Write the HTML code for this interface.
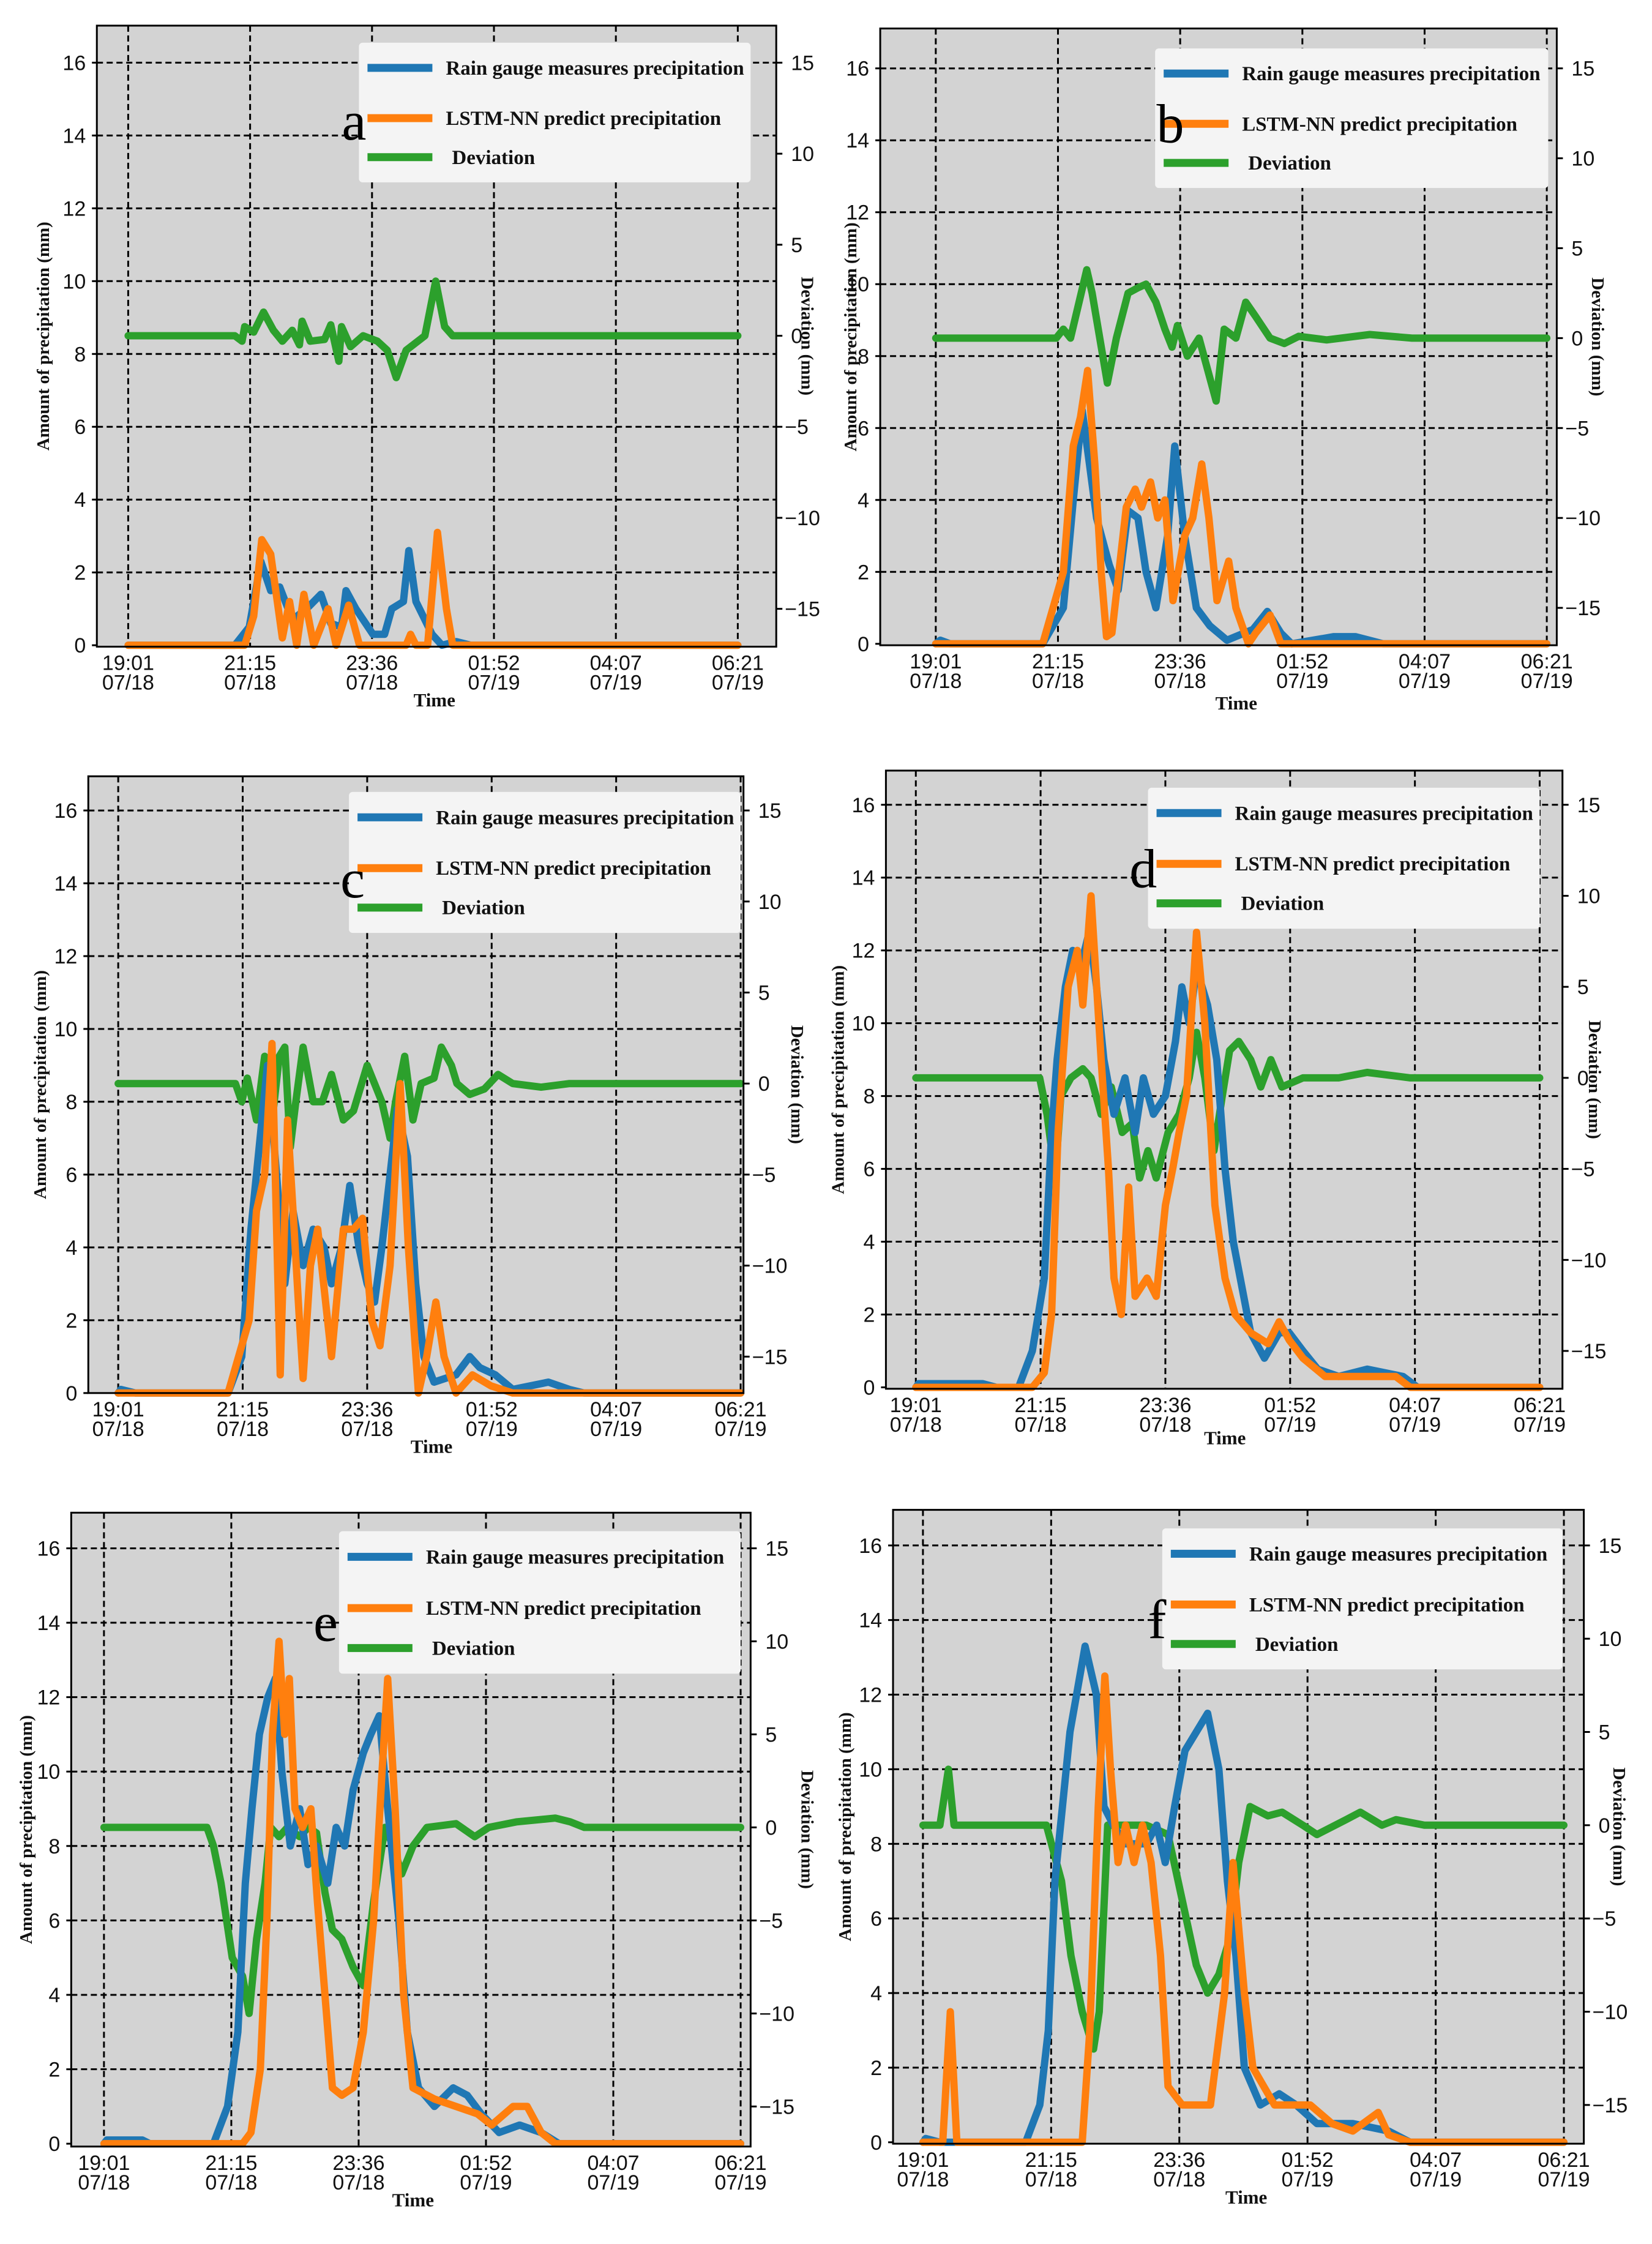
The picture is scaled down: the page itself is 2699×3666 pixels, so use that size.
<!DOCTYPE html>
<html><head><meta charset="utf-8"><style>
html,body{margin:0;padding:0;background:#fff;}
svg{display:block;}
text{font-family:"Liberation Sans",sans-serif;}
text.ser{font-family:"Liberation Serif",serif;font-weight:bold;}
text.letter{font-family:"Liberation Serif",serif;font-weight:normal;}
</style></head>
<body>
<svg id="fig" width="2699" height="3666" viewBox="0 0 2699 3666" xmlns="http://www.w3.org/2000/svg"></svg>
<script>
// ---- data (time in minutes since 19:01 07/18, values in mm) ----
const xTickLabels = ["19:01","21:15","23:36","01:52","04:07","06:21"];
const xTickDates = ["07/18","07/18","07/18","07/19","07/19","07/19"];
const yTicksLeft = [0,2,4,6,8,10,12,14,16];
const yTicksRight = [-15,-10,-5,0,5,10,15];
const seriesNames = ["Rain gauge measures precipitation","LSTM-NN predict precipitation","Deviation"];

const aRainT=[0,119,135,148,159,169,183,199,215,226,238,243,254,273,286,294,307,313,321,339,350,366,382,680];
const aRainV=[0,0,0.5,2.3,1.5,1.6,0.7,1.0,1.4,0.6,0.5,1.5,1.0,0.3,0.3,1.0,1.2,2.6,1.2,0.3,0,0.1,0,0];
const aPredT=[0,130,140,149,159,172,180,188,196,207,223,232,246,258,310,315,321,334,345,355,362,680];
const aPredV=[0,0,0.8,2.9,2.5,0.2,1.2,0,1.4,0,1.0,0,1.1,0,0,0.3,0,0,3.1,1.0,0,0];
const aDevT=[0,119,127,130,140,151,162,172,183,191,194,203,219,226,235,238,248,262,278,289,299,310,331,343,353,362,680];
const aDevV=[0,0,-0.3,0.5,0.2,1.3,0.3,-0.3,0.3,-0.5,0.8,-0.3,-0.2,0.6,-1.4,0.5,-0.6,0,-0.3,-0.8,-2.3,-0.8,0,3,0.5,0,0];

const bRainT=[0,5,16,119,142,153,163,171,179,193,203,214,225,234,245,258,266,277,290,305,324,353,369,384,396,443,467,498,680];
const bRainV=[0,0.1,0,0,1,4,6.5,5,3.5,2.2,1.5,3.7,3.5,2,1,3,5.5,3,1,0.5,0.1,0.4,0.9,0.3,0,0.2,0.2,0,0];
const bPredT=[0,119,142,153,161,169,177,184,190,196,212,222,229,239,247,255,264,277,286,296,304,313,326,334,348,356,372,384,680];
const bPredV=[0,0,2,5.5,6.3,7.6,5,2,0.2,0.3,3.8,4.3,3.8,4.5,3.5,4.0,1.2,3,3.5,5,3.5,1.2,2.3,1,0,0.3,0.8,0,0];
const bDevT=[0,134,142,150,168,174,191,201,214,225,234,245,255,263,269,280,293,312,321,334,345,356,372,388,404,435,483,530,680];
const bDevV=[0,0,0.5,0,3.8,2.5,-2.5,0,2.5,2.8,3,2,0.5,-0.5,0.7,-1,0,-3.5,0.5,0,2,1.2,0,-0.3,0.1,-0.1,0.2,0,0];

const cRainT=[0,3,19,120,135,145,157,163,173,182,191,202,213,225,233,244,253,263,272,280,288,297,305,316,325,334,345,369,384,395,412,431,470,493,509,680];
const cRainV=[0,0.1,0,0,1,4.5,7.5,9,6,3,5,3.5,4.5,4,3,4,5.7,4,3,2.5,4,6,7.8,6.5,3,1,0.3,0.5,1,0.7,0.5,0.1,0.3,0.1,0,0];
const cPredT=[0,120,143,151,160,168,177,185,191,198,202,210,218,233,246,257,267,277,286,297,308,317,328,337,347,356,369,387,407,431,680];
const cPredV=[0,0,2,5,6,9.6,0.5,7.5,5,2,0.4,3.5,4.5,1,4.5,4.5,4.8,2,1.3,3.5,8.5,4,0,1,2.5,1,0,0.5,0.2,0,0];
const cDevT=[0,128,135,141,151,160,166,176,182,188,194,202,213,223,233,246,257,272,280,288,297,303,313,322,331,345,353,364,370,384,400,415,431,462,493,680];
const cDevV=[0,0,-1,0.3,-2,1.5,-3,1.5,2,-3.5,-1,2,-1,-1,0.5,-2,-1.5,1,0,-1,-3,-1,1.5,-2,0,0.3,2,1,0,-0.6,-0.3,0.5,0,-0.2,0,0];

const dRainT=[0,3,73,88,112,127,140,148,154,163,171,179,189,197,205,216,228,239,248,259,272,283,290,298,306,318,328,337,346,365,380,396,407,422,438,461,492,531,547,680];
const dRainV=[0,0.1,0.1,0,0,1,3,7,9,11,12,11.5,12.5,11,9,7.5,8.5,7,8.5,7.5,8,9.5,11,10,11.5,10.5,9,6,4,1.5,0.8,1.5,1.5,1,0.5,0.3,0.5,0.3,0,0];
const dPredT=[0,127,140,148,155,166,176,182,191,202,210,216,224,232,239,252,262,272,280,287,295,306,315,326,337,348,365,384,396,407,422,446,492,523,539,680];
const dPredV=[0,0,0.4,2,7,11,12,10.5,13.5,9,6,3,2,5.5,2.5,3,2.5,5,6,7,8,12.5,10,5,3,2,1.5,1.2,1.8,1.3,0.8,0.3,0.3,0.3,0,0];
const dDevT=[0,135,143,152,158,169,182,191,202,213,225,236,244,253,262,275,287,298,306,315,325,334,342,352,365,376,387,399,422,461,492,539,680];
const dDevV=[0,0,-2,-5.5,-1,0,0.5,0,-2,-0.5,-3,-2.5,-5.5,-4,-5.5,-3,-2,0,2.5,0,-4,-1,1.5,2,1,-0.5,1,-0.5,0,0,0.3,0,0];

const eRainT=[0,3,41,49,117,132,143,151,158,166,175,183,190,199,209,218,227,239,248,257,266,277,285,294,303,315,324,336,353,373,388,403,422,444,467,486,680];
const eRainV=[0,0.1,0.1,0,0,1,3,7,9,11,12,12.5,10,8,9,7.5,8,7,8.5,8,9.5,10.5,11,11.5,9,6,3,1.5,1,1.5,1.3,0.8,0.3,0.5,0.3,0,0];
const ePredT=[0,148,157,167,174,180,187,193,198,204,212,221,228,236,244,254,266,277,288,297,303,311,320,330,353,376,399,414,437,452,467,482,680];
const ePredV=[0,0,0.3,2,6,11,13.5,11,12.5,9,8.5,9,6.5,4,1.5,1.3,1.5,3,6,10,12.5,9,4,1.5,1.2,1,0.8,0.5,1,1,0.3,0,0];
const eDevT=[0,110,117,125,137,148,155,163,172,178,187,196,209,218,227,236,244,254,266,277,288,300,309,318,330,345,376,396,411,441,482,498,513,680];
const eDevV=[0,0,-1,-3,-7,-8,-10,-6,-3,0,-0.5,0,-0.5,0,-0.3,-3.5,-5.5,-6,-7.5,-8.5,-4,0,-1,-2.5,-1,0,0.2,-0.5,0,0.3,0.5,0.3,0,0];

const fRainT=[0,3,18,109,124,133,140,148,156,163,172,184,192,202,215,237,248,257,267,278,290,302,314,323,332,341,358,378,396,418,456,494,517,680];
const fRainV=[0,0.1,0,0,1,3,7,9,11,12,13.3,12,9,8.5,8,8,8.5,7.5,9,10.5,11,11.5,10,7,5,2,1,1.3,1,0.5,0.5,0.3,0,0];
const fPredT=[0,21,29,36,169,177,186,193,199,207,215,224,233,242,252,260,275,305,320,329,341,350,373,396,411,434,456,483,494,517,680];
const fPredV=[0,0,3.5,0,0,3,9,12.5,10,7.5,8.5,7.5,8.5,7.5,5,1.5,1,1,4,7.5,4,2,1,1,1,0.5,0.3,0.8,0.2,0,0];
const fDevT=[0,18,27,33,131,147,157,169,181,187,196,237,260,275,290,302,314,326,335,347,366,381,403,418,449,464,487,502,532,680];
const fDevV=[0,0,3,0,0,-3,-7,-10,-12,-10,0,0,-0.5,-4,-7.5,-9,-8,-6,-2,1,0.5,0.7,0,-0.5,0.3,0.7,0,0.3,0,0];

// ---- layout (display units, scaled by S) ----
const S = 2.327;
const COLORS = ["#1f77b4","#ff7f0e","#2ca02c"];
const panels = [
 {id:"a", box:[68,18,545,454], y0:453, y16:44, x0:90, x1:518, leg:[252,30,527,128], let:[240,98], time:[305,496], ylab:30, rlab:567, rain:[aRainT,aRainV], pred:[aPredT,aPredV], dev:[aDevT,aDevV]},
 {id:"b", box:[618,20,1093,453], y0:452, y16:48, x0:657, x1:1086, leg:[811,34,1087,132], let:[812,100], time:[868,498], ylab:597, rlab:1122, rain:[bRainT,bRainV], pred:[bPredT,bPredV], dev:[bDevT,bDevV]},
 {id:"c", box:[62,545,522,978], y0:978, y16:569, x0:83, x1:520, leg:[245,556,520,655], let:[239,630], time:[303,1020], ylab:28, rlab:560, rain:[cRainT,cRainV], pred:[cPredT,cPredV], dev:[cDevT,cDevV]},
 {id:"d", box:[622,541,1097,975], y0:974, y16:565, x0:643, x1:1081, leg:[806,553,1081,652], let:[793,623], time:[860,1014], ylab:588, rlab:1120, rain:[dRainT,dRainV], pred:[dPredT,dPredV], dev:[dDevT,dDevV]},
 {id:"e", box:[50,1062,527,1507], y0:1505, y16:1087, x0:73, x1:520, leg:[238,1075,520,1175], let:[220,1152], time:[290,1549], ylab:18, rlab:567, rain:[eRainT,eRainV], pred:[ePredT,ePredV], dev:[eDevT,eDevV]},
 {id:"f", box:[627,1060,1112,1505], y0:1504, y16:1085, x0:648, x1:1098, leg:[816,1073,1097,1172], let:[806,1150], time:[875,1547], ylab:593, rlab:1137, rain:[fRainT,fRainV], pred:[fPredT,fPredV], dev:[fDevT,fDevV]}
];
const NS="http://www.w3.org/2000/svg";
const fig=document.getElementById('fig');
function mk(tag, attrs, parent){const e=document.createElementNS(NS,tag);for(const k in attrs)e.setAttribute(k,attrs[k]);(parent||fig).appendChild(e);return e;}

panels.forEach(p=>{
  const g=mk('g',{});
  
  
  const [L,T,R,B]=p.box.map(v=>v*S);
  const xs=t=>(p.x0+(p.x1-p.x0)*t/680)*S;
  const ys=v=>(p.y0-(p.y0-p.y16)*v/16)*S;
  const yd=d=>ys(8.5+d/2);
  const bg=mk('rect',{x:L,y:T,width:R-L,height:B-T,fill:"#d3d3d3",stroke:"none"},g);
  
  
  yTicksLeft.forEach(v=>{
    const y=ys(v);
    if(v>0){const l=mk('line',{x1:L,x2:R,y1:y,y2:y,stroke:"#000","stroke-width":3,"stroke-dasharray":"10,6"},g);
    
    }
    const t=mk('text',{x:L-18,y:y+12,"font-size":34,"text-anchor":"end",fill:"#111"},g);
    t.textContent=v;
    
    
    mk('line',{x1:L-8,x2:L,y1:y,y2:y,stroke:"#000","stroke-width":3},g);
  });
  xTickLabels.forEach((lab,i)=>{
    const x=xs(i*136);
    const l=mk('line',{x1:x,x2:x,y1:T,y2:B,stroke:"#000","stroke-width":3,"stroke-dasharray":"10,6"},g);
    
    
    const t=mk('text',{x:x,y:B+38,"font-size":34,"text-anchor":"middle",fill:"#111"},g);
    t.textContent=lab;
    
    
    const t2=mk('text',{x:x,y:B+70,"font-size":34,"text-anchor":"middle",fill:"#111"},g);
    t2.textContent=xTickDates[i];
    
    
  });
  yTicksRight.forEach(v=>{
    const y=yd(v);
    mk('line',{x1:R,x2:R+10,y1:y,y2:y,stroke:"#000","stroke-width":3},g);
    const t=mk('text',{x:R+(v<0?14:24),y:y+12,"font-size":34,"text-anchor":"start",fill:"#111"},g);
    t.textContent=v<0?('\u2212'+(-v)):v;
    
    
  });
  function line(arr,f,col,name){
    const [tt,vv]=arr;
    const d=tt.map((t,i)=>(i?'L':'M')+xs(t).toFixed(1)+','+f(vv[i]).toFixed(1)).join(' ');
    const pth=mk('path',{d:d,fill:"none",stroke:col,"stroke-width":12,"stroke-linejoin":"round","stroke-linecap":"round"},g);
    
    
  }
  line(p.dev,yd,COLORS[2],'deviation-line');
  line(p.rain,ys,COLORS[0],'rain-gauge-line');
  line(p.pred,ys,COLORS[1],'lstm-prediction-line');
  mk('rect',{x:L,y:T,width:R-L,height:B-T,fill:"none",stroke:"#000","stroke-width":3},g);
  const [lx,ly,lr,lb]=p.leg.map(v=>v*S);
  const lg=mk('g',{},g);
  
  
  mk('rect',{x:lx,y:ly,width:lr-lx,height:lb-ly,fill:"#f4f4f4",rx:6},lg);
  const rows=[0.18,0.54,0.82];
  seriesNames.forEach((n,i)=>{
    const y=ly+(lb-ly)*rows[i];
    const sl=mk('line',{x1:lx+14,x2:lx+120,y1:y,y2:y,stroke:COLORS[i],"stroke-width":13},lg);
    
    
    const t=mk('text',{x:lx+(i==2?152:142),y:y+11,"font-size":33,class:"ser",fill:"#111"},lg);
    t.textContent=n;
    
    
  });
  const lt=mk('text',{x:p.let[0]*S,y:p.let[1]*S,"font-size":90,class:"letter",fill:"#000"},g);
  lt.textContent=p.id;
  
  
  const tx=mk('text',{x:p.time[0]*S,y:p.time[1]*S,"font-size":31,class:"ser","text-anchor":"middle",fill:"#111"},g);
  tx.textContent="Time";
  
  
  const cy=(T+B)/2;
  const yl=mk('text',{x:0,y:0,"font-size":29,class:"ser","text-anchor":"middle",fill:"#111",transform:`translate(${p.ylab*S+10},${cy}) rotate(-90)`},g);
  yl.textContent="Amount of precipitation (mm)";
  
  
  const rl=mk('text',{x:0,y:0,"font-size":29,class:"ser","text-anchor":"middle",fill:"#111",transform:`translate(${p.rlab*S-10},${cy}) rotate(90)`},g);
  rl.textContent="Deviation (mm)";
  
  
});
</script>
</body></html>
